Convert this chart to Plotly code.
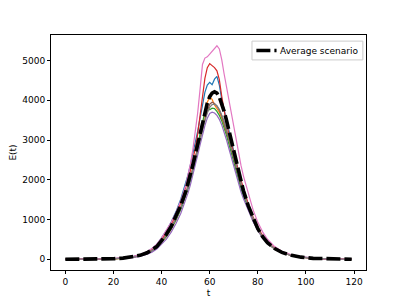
import plotly.graph_objects as go

t = [0, 5, 10, 15, 20, 24, 28, 31, 34, 36, 38, 40, 42, 44, 46, 48, 50,
     51, 52, 53, 54, 55, 56, 57, 58, 59, 60, 61, 62, 63, 64, 65, 66, 67, 68,
     69, 70, 71, 72, 73, 74, 76, 78, 80, 82, 84, 87, 90, 94, 98, 103, 108, 113, 119]

blue = [1, 2, 5, 10, 19, 35, 67, 115, 190, 265, 370, 540, 720, 940, 1200, 1520, 1900,
        2130, 2380, 2650, 2930, 3220, 3550, 3900, 4200, 4380, 4450, 4390, 4530, 4600, 4380, 4020, 3760, 3500, 3240,
        2960, 2680, 2410, 2160, 1930, 1720, 1340, 1020, 760, 565, 415, 265, 172, 98, 54, 25, 12, 5, 2]
orange = [1, 2, 3, 7, 14, 26, 50, 88, 148, 205, 290, 420, 570, 760, 990, 1270, 1600,
          1800, 2030, 2280, 2540, 2800, 3080, 3380, 3700, 3950, 4080, 4020, 3880, 3800, 3700, 3550, 3380, 3200, 2990,
          2760, 2520, 2290, 2070, 1860, 1670, 1310, 1000, 750, 555, 410, 262, 170, 97, 53, 24, 11, 5, 2]
green = [1, 2, 3, 7, 14, 27, 52, 90, 150, 210, 295, 425, 575, 765, 990, 1260, 1580,
         1770, 1980, 2210, 2460, 2730, 3180, 3450, 3700, 3820, 3760, 3800, 3790, 3720, 3620, 3480, 3310, 3110, 2890,
         2660, 2420, 2190, 1980, 1780, 1600, 1260, 970, 730, 545, 405, 258, 168, 96, 52, 24, 11, 5, 2]
red = [1, 2, 4, 9, 17, 32, 62, 106, 175, 245, 340, 495, 665, 875, 1130, 1430, 1780,
       1990, 2230, 2500, 2790, 3150, 3650, 4150, 4550, 4820, 4920, 4870, 4820, 4740, 4520, 4100, 3700, 3400, 3150,
       2900, 2670, 2440, 2210, 1990, 1790, 1400, 1070, 800, 595, 440, 282, 182, 104, 57, 26, 12, 5, 2]
purple = [0, 1, 2, 5, 11, 21, 42, 75, 128, 182, 258, 372, 510, 685, 900, 1160, 1480,
          1670, 1880, 2110, 2360, 2620, 2880, 3130, 3360, 3550, 3670, 3700, 3680, 3620, 3520, 3380, 3200, 3000, 2780,
          2550, 2320, 2100, 1890, 1700, 1530, 1220, 950, 720, 540, 400, 258, 168, 97, 53, 24, 11, 5, 2]
brown = [1, 2, 4, 8, 15, 29, 56, 97, 160, 223, 312, 455, 615, 810, 1040, 1320, 1650,
         1850, 2060, 2290, 2530, 2780, 3030, 3280, 3520, 3740, 3900, 3950, 3920, 3850, 3750, 3610, 3430, 3230, 3010,
         2780, 2540, 2300, 2080, 1870, 1680, 1320, 1010, 755, 560, 415, 265, 172, 99, 54, 25, 11, 5, 2]
pink = [1, 2, 5, 10, 20, 37, 70, 120, 198, 275, 380, 540, 720, 930, 1180, 1480, 1850,
        2100, 2400, 2760, 3160, 3680, 4280, 4900, 5060, 5090, 5160, 5240, 5310, 5370, 5290, 5020, 4660, 4330, 4000,
        3640, 3280, 2950, 2640, 2360, 2100, 1640, 1250, 930, 690, 505, 320, 205, 116, 63, 29, 13, 6, 2]
gray = [1, 2, 4, 8, 15, 28, 55, 95, 157, 219, 305, 445, 600, 790, 1015, 1290, 1610,
        1810, 2020, 2250, 2490, 2740, 3000, 3250, 3480, 3680, 3820, 3890, 3900, 3860, 3770, 3640, 3470, 3270, 3050,
        2810, 2570, 2330, 2100, 1890, 1700, 1330, 1020, 760, 565, 418, 267, 173, 99, 54, 25, 11, 5, 2]
average = [1, 2, 4, 8, 16, 30, 58, 100, 165, 230, 320, 470, 630, 830, 1070, 1360, 1700,
           1900, 2120, 2370, 2630, 2900, 3200, 3480, 3730, 3930, 4090, 4180, 4210, 4180, 4080, 3920, 3720, 3490, 3240,
           2970, 2690, 2420, 2170, 1940, 1730, 1350, 1030, 770, 570, 420, 270, 175, 100, 55, 25, 12, 5, 2]

series = [blue, orange, green, red, purple, brown, pink, gray]
colors = ['#1f77b4', '#ff7f0e', '#2ca02c', '#d62728', '#9467bd',
          '#8c564b', '#e377c2', '#7f7f7f']
legend_label = 'Average scenario'

x_ticks = [0, 20, 40, 60, 80, 100, 120]
y_ticks = [0, 1000, 2000, 3000, 4000, 5000]

AVG_DASH = '14px,4px'

fig = go.Figure()
for s, c in zip(series, colors):
    fig.add_trace(go.Scatter(x=t, y=s, mode='lines', line=dict(color=c, width=1.2),
                             showlegend=False, hoverinfo='skip'))
fig.add_trace(go.Scatter(x=t, y=average, mode='lines', name=legend_label, showlegend=False,
                         line=dict(color='black', width=3.6, dash=AVG_DASH)))

axis_common = dict(showline=True, linecolor='black', linewidth=1, mirror=True,
                   ticks='outside', ticklen=3, tickwidth=1, tickcolor='black',
                   showgrid=False, zeroline=False, automargin=False,
                   tickfont=dict(family='DejaVu Sans', size=9, color='black'))

# legend box (matplotlib style), drawn in paper coordinates
fig.add_shape(type='rect', xref='paper', yref='paper', x0=0.638, x1=0.990, y0=0.894, y1=0.974,
              line=dict(color='#cccccc', width=1), fillcolor='rgba(255,255,255,0.8)', layer='above')
fig.add_shape(type='line', xref='paper', yref='paper', x0=0.652, x1=0.716, y0=0.934, y1=0.934,
              line=dict(color='black', width=3.6, dash=AVG_DASH), layer='above')
fig.add_annotation(xref='paper', yref='paper', x=0.722, y=0.934, xanchor='left', yanchor='middle',
                   text=legend_label, showarrow=False,
                   font=dict(family='DejaVu Sans', size=9, color='black'))

fig.update_layout(
    width=399, height=296,
    margin=dict(l=43, r=41, t=27, b=34),
    paper_bgcolor='white', plot_bgcolor='white',
    font=dict(family='DejaVu Sans', size=9, color='black'),
    showlegend=False,
    xaxis=dict(range=[-5.95, 124.95], tickvals=x_ticks,
               title=dict(text='t', font=dict(size=9), standoff=3), **axis_common),
    yaxis=dict(range=[-268, 5640], tickvals=y_ticks,
               title=dict(text='E(t)', font=dict(size=9), standoff=4), **axis_common),
)

fig.write_html("out.html")
